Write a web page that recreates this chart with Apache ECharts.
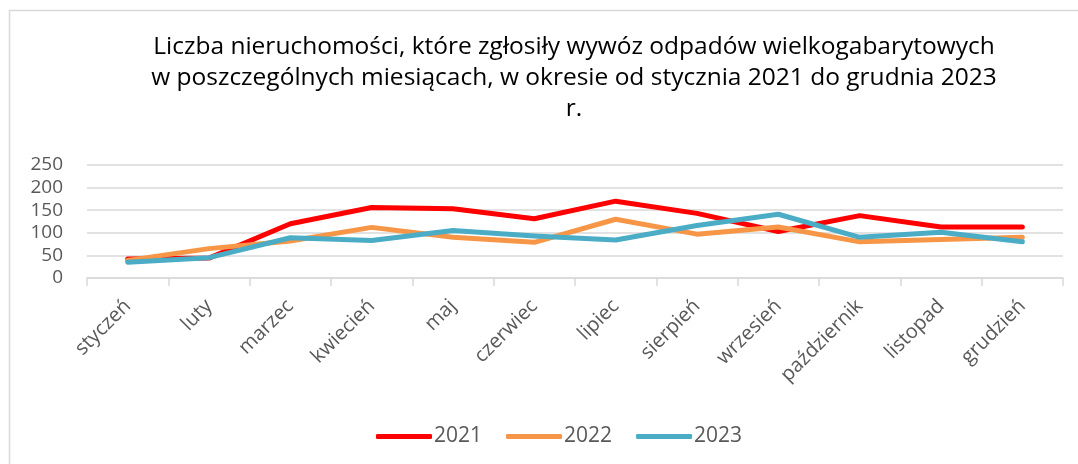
<!DOCTYPE html>
<html>
<head>
<meta charset="utf-8">
<script src="https://cdn.jsdelivr.net/npm/echarts@6/dist/echarts.min.js"></script>
<style>
  html, body { margin: 0; padding: 0; background: #fff; }
</style>
</head>
<body>
<div id="chart" style="width:1078px;height:464px;"></div>
<script>
// months and yearly counts
const months = ['styczeń', 'luty', 'marzec', 'kwiecień', 'maj', 'czerwiec', 'lipiec', 'sierpień', 'wrzesień', 'październik', 'listopad', 'grudzień'];
const y2021 = [42, 44, 120, 156, 153, 131, 170, 143, 103, 138, 113, 113];
const y2022 = [39, 65, 82, 112, 90, 79, 130, 97, 113, 80, 85, 90];
const y2023 = [35, 45, 89, 83, 105, 93, 84, 116, 141, 90, 101, 80];
const yTicks = [0, 50, 100, 150, 200, 250];

const titleText = 'Liczba nieruchomości, które zgłosiły wywóz odpadów wielkogabarytowych\nw poszczególnych miesiącach, w okresie od stycznia 2021 do grudnia 2023\nr.';
const font = '"Open Sans", "Noto Sans", sans-serif';

var myChart = echarts.init(document.getElementById('chart'));

function line(name, data, color) {
  return {
    name,
    type: 'line',
    data,
    symbol: 'none',
    smooth: false,
    color,
    lineStyle: { width: 5, color, cap: 'round', join: 'round' }
  };
}

var option = {
  backgroundColor: '#fff',
  animation: false,
  graphic: [{
    type: 'rect',
    shape: { x: 9.5, y: 10.5, width: 1100, height: 500 },
    style: { fill: 'none', stroke: '#d9d9d9', lineWidth: 1.5 },
    silent: true
  }],
  title: {
    text: titleText,
    left: 569,
    top: 27,
    textAlign: 'center',
    textStyle: {
      fontFamily: font,
      fontSize: 24.5,
      fontWeight: 'normal',
      color: '#000',
      lineHeight: 31,
      align: 'center'
    }
  },
  legend: {
    data: ['2021', '2022', '2023'],
    left: 371,
    top: 421,
    icon: 'roundRect',
    itemWidth: 56,
    itemHeight: 5,
    itemGap: 24,
    textStyle: { fontFamily: font, fontSize: 21, color: '#595959', padding: [0, 0, 0, -3] }
  },
  grid: {
    left: 87,
    right: 15,
    top: 165,
    bottom: 186,
    containLabel: false
  },
  xAxis: {
    type: 'category',
    data: months,
    boundaryGap: true,
    axisLine: { lineStyle: { color: '#d9d9d9', width: 1.5 } },
    axisTick: { show: true, length: 8, lineStyle: { color: '#d9d9d9', width: 1.5 } },
    axisLabel: {
      rotate: 45,
      interval: 0,
      margin: 25,
      fontFamily: font,
      fontSize: 20,
      color: '#595959'
    }
  },
  yAxis: {
    type: 'value',
    min: yTicks[0],
    max: yTicks[yTicks.length - 1],
    interval: 50,
    axisLine: { show: false },
    axisTick: { show: false },
    splitLine: { lineStyle: { color: '#d9d9d9', width: 1.5 } },
    axisLabel: { fontFamily: font, fontSize: 19, color: '#595959', margin: 24 }
  },
  series: [
    line('2021', y2021, '#ff0000'),
    line('2022', y2022, '#f79646'),
    line('2023', y2023, '#4bacc6')
  ]
};

option && myChart.setOption(option);
</script>
</body>
</html>
